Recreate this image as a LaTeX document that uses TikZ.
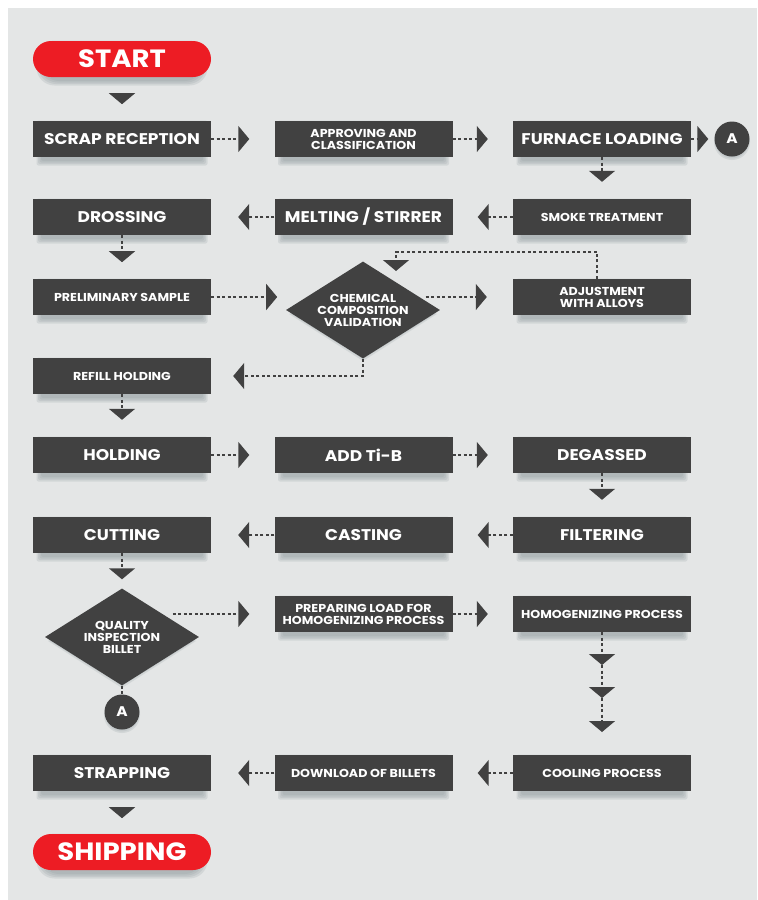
\documentclass[tikz,border=0pt]{standalone}
\usepackage{fontspec}
\setmainfont{Poppins}[FakeStretch=1.1]
\usetikzlibrary{arrows.meta,shapes.geometric,calc}
\definecolor{bg}{HTML}{E4E6E6}
\definecolor{boxc}{HTML}{414141}
\definecolor{redc}{HTML}{ED1C24}
\definecolor{shc}{HTML}{8E999D}
\newcommand\fpill{\bfseries\fontsize{25}{25}\selectfont}
\newcommand\fbig{\bfseries\fontsize{15.5}{15.5}\selectfont}
\newcommand\fsmall{\bfseries\fontsize{11.5}{12}\selectfont}
\newcommand\fcirc{\bfseries\fontsize{14}{14}\selectfont}
% soft shadow under a box: [corner radius]{cx}{cy}
\newcommand\shad[3][2]{%
  \foreach \k in {0,1.5,3,4.5}{%
    \fill[shc,opacity=0.2,rounded corners=#1pt] ({#2-81-\k},{#3-14-\k}) rectangle ({#2+81+\k},{#3+22+\k});
  }}
\newcommand\cshad[2]{%
  \foreach \k in {0,1.5,3}{%
    \fill[shc,opacity=0.2] ({#1},{#2+3}) circle ({15+\k});
  }}
\newcommand\dshad[2]{%
  \foreach \k in {0,2}{%
    \fill[shc,opacity=0.2] ({#1-72-\k},{#2+4}) -- ({#1},{#2-44-\k}) -- ({#1+72+\k},{#2+4}) -- ({#1},{#2+49+\k}) -- cycle;
  }}
\tikzset{
  box/.style={rectangle, fill=boxc, text=white, minimum width=178pt, minimum height=36pt,
    inner sep=0pt, align=center, font=\fbig},
  sm/.style={font=\fsmall},
  pill/.style={rectangle, rounded corners=18pt, fill=redc, text=white, minimum width=178pt,
    minimum height=36pt, inner sep=0pt, font=\fpill},
  dia/.style={diamond, aspect=1.6, fill=boxc, text=white, minimum width=154pt, minimum height=97pt,
    inner sep=0pt, align=center, font=\fsmall},
  circ/.style={circle, fill=boxc, text=white, minimum size=35pt, inner sep=0pt, font=\fcirc},
  con/.style={draw=boxc, line width=1.4pt, dash pattern=on 3pt off 2.5pt,
    -{Triangle[width=26pt,length=11pt]}},
  plain/.style={draw=boxc, line width=1.4pt, dash pattern=on 3pt off 2.5pt},
}
\begin{document}
\begin{tikzpicture}[x=1pt,y=-1pt]
\useasboundingbox (0,0) rectangle (758,900);
\fill[white] (0,0) rectangle (758,900);
\fill[bg] (8,8) rectangle (757,900);

% shadows
\shad[18]{122}{59}
\foreach \cx/\cy in {122/139,363.5/139,602/139, 122/217,363.5/217,602/217,
  122/297,602/297, 122/376, 122/455,363.5/455,602/455, 122/535,363.5/535,602/535,
  363.5/614,602/614, 122/773,363.5/773,602/773}{\shad{\cx}{\cy}}
\shad[18]{122}{852}
\cshad{732}{139}
\cshad{122}{712}
\dshad{363}{310}
\dshad{122}{637}

% nodes
\node[pill] (start) at (122,59) {START};
\node[box] (scrap) at (122,139) {SCRAP RECEPTION};
\node[box,sm] (appr) at (363.5,139) {APPROVING AND\\CLASSIFICATION};
\node[box] (furn) at (602,139) {FURNACE LOADING};
\node[circ] (A1) at (732,139) {A};
\node[box] (dross) at (122,217) {DROSSING};
\node[box] (melt) at (363.5,217) {MELTING / STIRRER};
\node[box,sm] (smoke) at (602,217) {SMOKE TREATMENT};
\node[box,sm] (prelim) at (122,297) {PRELIMINARY SAMPLE};
\node[dia] (chem) at (363,310) {CHEMICAL\\COMPOSITION\\VALIDATION};
\node[box,sm] (adj) at (602,297) {ADJUSTMENT\\WITH ALLOYS};
\node[box,sm] (refill) at (122,376) {REFILL HOLDING};
\node[box] (hold) at (122,455) {HOLDING};
\node[box] (addti) at (363.5,455) {ADD Ti-B};
\node[box] (degas) at (602,455) {DEGASSED};
\node[box] (cut) at (122,535) {CUTTING};
\node[box] (cast) at (363.5,535) {CASTING};
\node[box] (filt) at (602,535) {FILTERING};
\node[dia] (qual) at (122,637) {QUALITY\\INSPECTION\\BILLET};
\node[box,sm] (prep) at (363.5,614) {PREPARING LOAD FOR\\HOMOGENIZING PROCESS};
\node[box,sm] (homog) at (602,614) {HOMOGENIZING PROCESS};
\node[circ] (A2) at (122,712) {A};
\node[box] (strap) at (122,773) {STRAPPING};
\node[box,sm] (down) at (363.5,773) {DOWNLOAD OF BILLETS};
\node[box,sm] (cool) at (602,773) {COOLING PROCESS};
\node[pill] (ship) at (122,852) {SHIPPING};

% connectors
\draw[con] ($(start.south)+(0,16)$) -- ($(start.south)+(0,27)$);
\draw[con] (scrap.east) -- ($(appr.west)+(-25,0)$);
\draw[con] (appr.east) -- ($(furn.west)+(-25,0)$);
\draw[con] (furn.east) -- ($(A1.west)+(-6,0)$);
\draw[con] (furn.south) -- ($(smoke.north)+(0,-17)$);
\draw[con] (smoke.west) -- ($(melt.east)+(25,0)$);
\draw[con] (melt.west) -- ($(dross.east)+(27,0)$);
\draw[con] (dross.south) -- ($(dross.south)+(0,27)$);
\draw[con] (prelim.east) -- ($(prelim.east)+(66,0)$);
\coordinate (cq) at ($(chem.13)+(6,0)$);
\draw[con] (cq |- adj.west) -- ($(adj.west)+(-26,0)$);
\coordinate (fb) at (396,271);
\draw[con] ($(adj.north)+(-5,0)$) -- ++(0,-27) -| (fb);
\draw[con] (chem.south) |- ($(refill.east)+(22,0)$);
\draw[con] (refill.south) -- ($(hold.north)+(0,-17)$);
\draw[con] (hold.east) -- ($(addti.west)+(-25,0)$);
\draw[con] (addti.east) -- ($(degas.west)+(-25,0)$);
\draw[con] (degas.south) -- ($(filt.north)+(0,-17)$);
\draw[con] (filt.west) -- ($(cast.east)+(25,0)$);
\draw[con] (cast.west) -- ($(cut.east)+(27,0)$);
\draw[con] (cut.south) -- ($(qual.north)+(0,-9)$);
\coordinate (qq) at ($(qual.32)+(12,0)$);
\draw[con] (qq |- prep.west) -- ($(prep.west)+(-25,0)$);
\draw[plain] (qual.south) -- (A2.north);
\draw[con] (prep.east) -- ($(homog.west)+(-25,0)$);
\coordinate (h1) at (602,665);
\coordinate (h2) at (602,698);
\coordinate (h3) at (602,732);
\draw[con] (homog.south) -- (h1);
\draw[con] (h1) -- (h2);
\draw[con] (h2) -- (h3);
\draw[con] (cool.west) -- ($(down.east)+(25,0)$);
\draw[con] (down.west) -- ($(strap.east)+(27,0)$);
\draw[con] ($(strap.south)+(0,16)$) -- ($(strap.south)+(0,27)$);
\end{tikzpicture}
\end{document}
